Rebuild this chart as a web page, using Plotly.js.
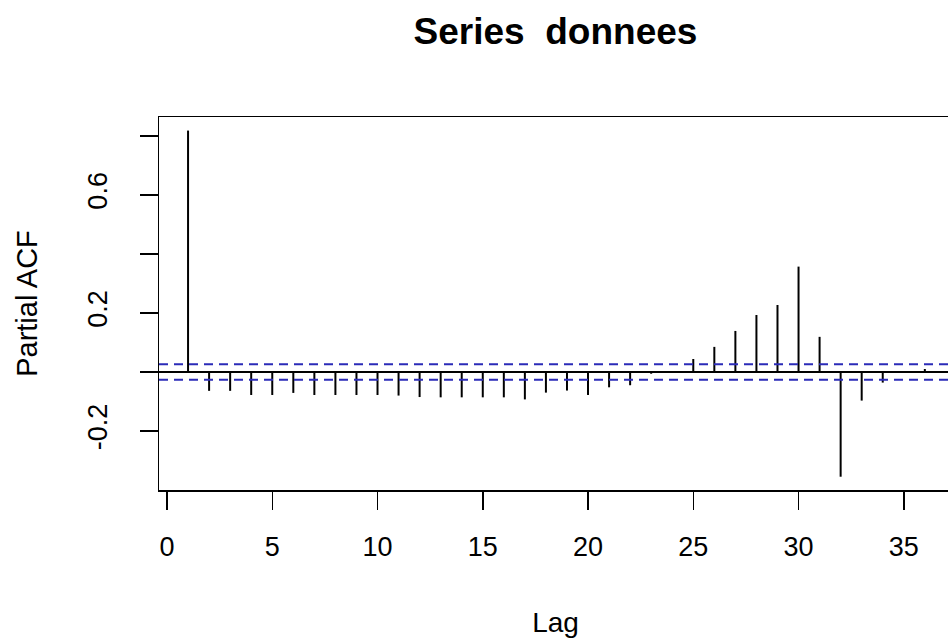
<!DOCTYPE html>
<html><head><meta charset="utf-8">
<script src="https://cdn.plot.ly/plotly-3.0.1.min.js"></script>
<style>html,body{margin:0;padding:0;overflow:hidden;background:#fff}</style>
</head><body><div id="chart"></div>
<script>
const lags = [1,2,3,4,5,6,7,8,9,10,11,12,13,14,15,16,17,18,19,20,21,22,23,24,25,26,27,28,29,30,31,32,33,34,35,36];
const pacfValues = [0.818,-0.064,-0.064,-0.078,-0.078,-0.071,-0.078,-0.078,-0.078,-0.078,-0.080,-0.085,
  -0.086,-0.086,-0.086,-0.086,-0.093,-0.070,-0.063,-0.078,-0.052,-0.045,-0.006,0.001,
  0.044,0.085,0.139,0.193,0.227,0.357,0.119,-0.355,-0.097,-0.036,0.002,0.010];
const ciBound = 0.026;
const xTickVals = [0,5,10,15,20,25,30,35];
const xTickText = ["0","5","10","15","20","25","30","35"];
const yTickVals = [-0.2,0,0.2,0.4,0.6,0.8];
const yTickText = ["-0.2","","0.2","","0.6",""];
const titleText = "Series\u00a0 donnees";
const xTitle = "Lag";
const yTitle = "Partial ACF";

const sx = [], sy = [];
lags.forEach((l, i) => { sx.push(l, l, null); sy.push(0, pacfValues[i], null); });

const FONT = "Liberation Sans, Arial, Helvetica, sans-serif";
const traces = [{
  type: "scatter", mode: "lines", x: sx, y: sy,
  line: {color: "#000", width: 2}, hoverinfo: "skip", showlegend: false
}];

const layout = {
  width: 952, height: 644,
  margin: {l: 159, r: 0, t: 117, b: 154},
  paper_bgcolor: "#fff", plot_bgcolor: "#fff",
  font: {family: FONT, color: "#000"},
  title: {text: titleText, font: {family: FONT, size: 37, weight: "bold", color: "#000"},
          xref: "paper", x: 0.5, xanchor: "center", yref: "container", y: 1 - 31/644, yanchor: "middle"},
  xaxis: {
    range: [-0.38, 37.29], tickmode: "array", tickvals: xTickVals, ticktext: xTickText,
    ticks: "outside", ticklen: 18, tickwidth: 1.5, tickcolor: "#000",
    showline: true, mirror: true, linecolor: "#000", linewidth: 1.5,
    showgrid: false, zeroline: false, ticklabelstandoff: 14,
    tickfont: {size: 27, family: FONT, color: "#000"},
    title: {text: xTitle, font: {size: 28, family: FONT, color: "#000"}, standoff: 51}
  },
  yaxis: {
    range: [-0.4, 0.864], tickmode: "array", tickvals: yTickVals, ticktext: yTickText,
    ticks: "outside", ticklen: 18, tickwidth: 1.5, tickcolor: "#000", tickangle: -90,
    showline: true, mirror: true, linecolor: "#000", linewidth: 1.5,
    showgrid: false, zeroline: true, zerolinecolor: "#000", zerolinewidth: 1.5,
    ticklabelstandoff: 22,
    tickfont: {size: 27, family: FONT, color: "#000"},
    title: {text: yTitle, font: {size: 29, family: FONT, color: "#000"}, standoff: 36}
  },
  shapes: [ciBound, -ciBound].map(v => ({
    type: "line", xref: "paper", x0: 0, x1: 1, yref: "y", y0: v, y1: v,
    line: {color: "#2b2bb8", width: 2, dash: "9px,6px"}
  }))
};
Plotly.newPlot("chart", traces, layout, {displayModeBar: false, staticPlot: true});
</script></body></html>
